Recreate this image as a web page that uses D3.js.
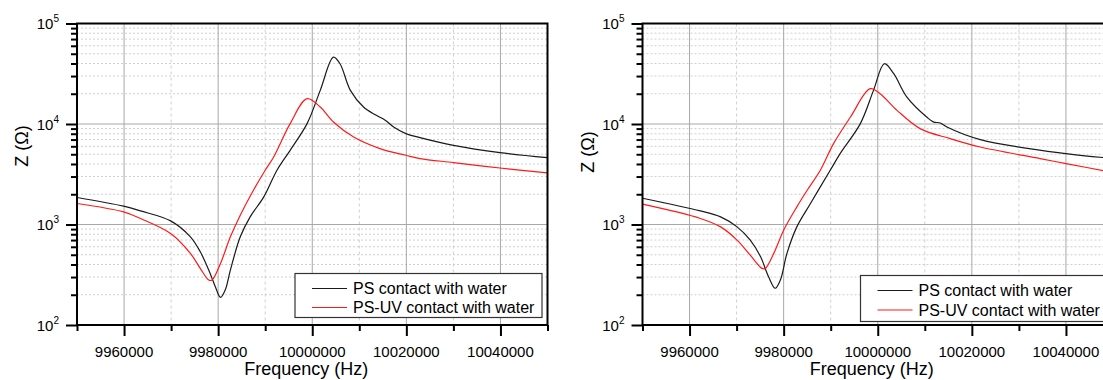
<!DOCTYPE html>
<html>
<head>
<meta charset="utf-8">
<script src="https://cdn.jsdelivr.net/npm/d3@7"></script>
<style>
  html, body { margin: 0; padding: 0; background: #fff; }
  svg { display: block; font-family: "Liberation Sans", Arial, sans-serif; }
</style>
</head>
<body>
<svg id="chart" width="1103" height="380"></svg>
<script>
// ---------- data ----------
const seriesNames = ["PS contact with water", "PS-UV contact with water"];
const freqMajorTicks = [9960000, 9980000, 10000000, 10020000, 10040000];
const freqMinorTicks = [9950000, 9970000, 9990000, 10010000, 10030000, 10050000];
const zExponents = [2, 3, 4, 5];

// Left panel
const leftPS_f = [9950000, 9959900, 9963500, 9969900, 9974100, 9976200, 9978300, 9979400, 9980500, 9981500, 9982600, 9984700, 9986800, 9989700, 9992500, 9995300, 9998900, 10001700, 10004500, 10005900, 10008100, 10010900, 10013400, 10015500, 10017300, 10019900, 10022900, 10030000, 10039900, 10050000];
const leftPS_z = [1856, 1521, 1366, 1087, 754, 535, 326, 240, 188, 223, 352, 754, 1191, 1882, 3465, 5474, 10083, 21600, 46270, 39780, 21600, 14740, 12330, 10925, 9330, 8022, 7320, 6138, 5194, 4633];
const leftUV_f = [9950000, 9959900, 9963500, 9969900, 9974100, 9976200, 9978000, 9978700, 9980500, 9982600, 9984700, 9987500, 9990000, 9991800, 9995300, 9998900, 10001700, 10004500, 10008800, 10014400, 10019900, 10022900, 10030000, 10039900, 10050000];
const leftUV_z = [1618, 1335, 1148, 815, 516, 366, 280, 280, 410, 754, 1238, 2193, 3465, 4697, 10083, 17860, 14740, 10460, 7420, 5690, 4883, 4528, 4133, 3651, 3258];

// Right panel
const rightPS_f = [9950000, 9962300, 9966600, 9970100, 9972900, 9975100, 9976800, 9978200, 9979300, 9980700, 9982800, 9985700, 9989900, 9992000, 9996300, 9999100, 10001400, 10003400, 10006200, 10010400, 10011800, 10013300, 10014700, 10021800, 10040000, 10050000];
const rightPS_z = [1826, 1366, 1191, 947, 699, 477, 302, 232, 280, 516, 947, 1618, 3465, 5076, 10083, 21600, 39780, 31640, 18530, 11730, 10510, 10220, 9330, 6993, 5076, 4550];
const rightUV_f = [9950000, 9962300, 9966600, 9970100, 9972900, 9975400, 9976100, 9977900, 9980000, 9982800, 9985000, 9987800, 9990600, 9994200, 9998400, 10000500, 10004100, 10009000, 10015400, 10021800, 10034500, 10040000, 10050000];
const rightUV_z = [1592, 1148, 947, 699, 496, 366, 366, 516, 878, 1497, 2193, 3465, 6381, 11730, 22450, 20020, 13670, 8994, 7153, 5903, 4528, 4039, 3300];

// ---------- drawing ----------
const svg = d3.select("#chart");
const panels = [
  { x0: 77, ps: [leftPS_f, leftPS_z], uv: [leftUV_f, leftUV_z], legendTop: 273.5, legendH: 44, rowY: [288.5, 307.5], zLabelY: 146 },
  { x0: 642.5, ps: [rightPS_f, rightPS_z], uv: [rightUV_f, rightUV_z], legendTop: 275.5, legendH: 46, rowY: [290.5, 310], zLabelY: 152 }
];
const pw = 470.5, plotTop = 23.5, plotBottom = 325;

panels.forEach((p, i) => {
  const g = svg.append("g");
  const x = d3.scaleLinear().domain([9950000, 10050000]).range([p.x0, p.x0 + pw]);
  const y = d3.scaleLog().domain([100, 100000]).range([plotBottom, plotTop]);

  // minor grid
  const minorY = [];
  zExponents.slice(0, 3).forEach(e => { for (let m = 2; m <= 9; m++) minorY.push(m * Math.pow(10, e)); });
  g.append("g").selectAll("line").data(minorY).join("line")
    .attr("x1", p.x0).attr("x2", p.x0 + pw)
    .attr("y1", d => y(d)).attr("y2", d => y(d))
    .attr("stroke", "#cfcfcf").attr("stroke-width", 1).attr("stroke-dasharray", "2,2");
  g.append("g").selectAll("line").data(freqMinorTicks.slice(1, -1)).join("line")
    .attr("x1", d => x(d)).attr("x2", d => x(d))
    .attr("y1", plotTop).attr("y2", plotBottom)
    .attr("stroke", "#cfcfcf").attr("stroke-width", 1).attr("stroke-dasharray", "3,3");
  // major grid
  g.append("g").selectAll("line").data(zExponents.slice(1, 3)).join("line")
    .attr("x1", p.x0).attr("x2", p.x0 + pw)
    .attr("y1", d => y(Math.pow(10, d))).attr("y2", d => y(Math.pow(10, d)))
    .attr("stroke", "#a8a8a8").attr("stroke-width", 1);
  g.append("g").selectAll("line").data(freqMajorTicks).join("line")
    .attr("x1", d => x(d)).attr("x2", d => x(d))
    .attr("y1", plotTop).attr("y2", plotBottom)
    .attr("stroke", "#a8a8a8").attr("stroke-width", 1);

  // curves
  const clipId = "clip" + i;
  svg.append("clipPath").attr("id", clipId).append("rect")
    .attr("x", p.x0).attr("y", plotTop).attr("width", pw).attr("height", plotBottom - plotTop);
  const line = d3.line().x(d => x(d[0])).y(d => y(d[1])).curve(d3.curveCatmullRom.alpha(0.5));
  const toPts = arr => arr[0].map((f, k) => [f, arr[1][k]]);
  g.append("path").attr("clip-path", `url(#${clipId})`).attr("d", line(toPts(p.ps)))
    .attr("fill", "none").attr("stroke", "#1a1a1a").attr("stroke-width", 1.2);
  g.append("path").attr("clip-path", `url(#${clipId})`).attr("d", line(toPts(p.uv)))
    .attr("fill", "none").attr("stroke", "#ff1a1a").attr("stroke-width", 1.2);

  // frame
  g.append("rect").attr("x", p.x0).attr("y", plotTop).attr("width", pw).attr("height", plotBottom - plotTop)
    .attr("fill", "none").attr("stroke", "#000").attr("stroke-width", 2);

  // left axis ticks
  const majorZ = zExponents.map(e => Math.pow(10, e));
  const yMaj = g.append("g").attr("transform", `translate(${p.x0},0)`)
    .call(d3.axisLeft(y).tickValues(majorZ).tickSize(11).tickFormat(""));
  const yMin = g.append("g").attr("transform", `translate(${p.x0},0)`)
    .call(d3.axisLeft(y).tickValues(minorY).tickSize(6).tickFormat(""));
  [yMaj, yMin].forEach(a => { a.select(".domain").remove(); a.selectAll("line").attr("stroke", "#000").attr("stroke-width", 2); });

  // y tick labels 10^n
  const yl = g.append("g").selectAll("text").data(zExponents).join("text")
    .attr("x", p.x0 - 18).attr("y", d => y(Math.pow(10, d)) + 5.5)
    .attr("text-anchor", "end").attr("font-size", 15).attr("fill", "#000");
  yl.append("tspan").text("10");
  yl.append("tspan").attr("dy", -7).attr("font-size", 10).text(d => d);

  // bottom axis ticks
  const xMaj = g.append("g").attr("transform", `translate(0,${plotBottom})`)
    .call(d3.axisBottom(x).tickValues(freqMajorTicks).tickSize(11).tickFormat(""));
  const xMin = g.append("g").attr("transform", `translate(0,${plotBottom})`)
    .call(d3.axisBottom(x).tickValues(freqMinorTicks).tickSize(6).tickFormat(""));
  [xMaj, xMin].forEach(a => { a.select(".domain").remove(); a.selectAll("line").attr("stroke", "#000").attr("stroke-width", 2); });
  g.append("g").selectAll("text").data(freqMajorTicks).join("text")
    .attr("x", d => x(d)).attr("y", 356.5).attr("text-anchor", "middle")
    .attr("font-size", 15).attr("fill", "#000").text(d => d3.format("d")(d));

  // axis titles
  g.append("text").attr("x", x(10000000) - 6).attr("y", 375)
    .attr("text-anchor", "middle").attr("font-size", 18).attr("fill", "#000").text("Frequency (Hz)");
  g.append("text").attr("transform", `translate(${p.x0 - 49},${p.zLabelY}) rotate(-90)`)
    .attr("text-anchor", "middle").attr("font-size", 18).attr("fill", "#000").text("Z (Ω)");

  // legend
  const lg = g.append("g").attr("transform", `translate(${p.x0 + 218},${p.legendTop})`);
  lg.append("rect").attr("x", 0).attr("y", 0).attr("width", 247).attr("height", p.legendH)
    .attr("fill", "#fff").attr("stroke", "#333").attr("stroke-width", 1.2);
  const colors = ["#1a1a1a", "#ff1a1a"];
  seriesNames.forEach((name, k) => {
    const ry = p.rowY[k] - p.legendTop;
    lg.append("line").attr("x1", 17).attr("x2", 52).attr("y1", ry).attr("y2", ry)
      .attr("stroke", colors[k]).attr("stroke-width", 1.2);
    lg.append("text").attr("x", 58).attr("y", ry + 5.5).attr("font-size", 16).attr("fill", "#000").text(name);
  });
});
</script>
</body>
</html>
